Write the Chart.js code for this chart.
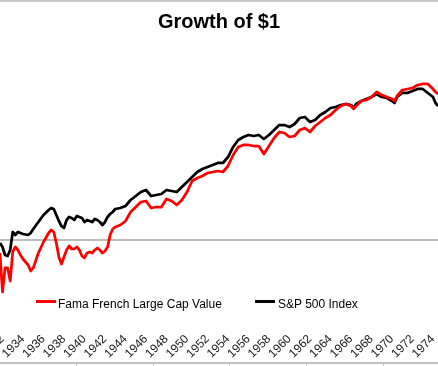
<!DOCTYPE html>
<html>
<head>
<meta charset="utf-8">
<script src="https://cdn.jsdelivr.net/npm/chart.js@4/dist/chart.umd.min.js"></script>
<style>
  body { margin: 0; background: #fff; }
  #wrap { position: relative; width: 438px; height: 366px; overflow: hidden; background: #fff; }
  #c { position: absolute; left: 0; top: 0; }
  .band { position: absolute; background: #c8c8c8; }
  .leg { position: absolute; font: 12px "Liberation Sans", Arial, sans-serif; line-height: 14px; color: #000; white-space: nowrap; }
  .sw { position: absolute; height: 3px; width: 20px; }
</style>
</head>
<body>
<div id="wrap">
  <canvas id="c" width="438" height="366"></canvas>
  <div class="band" style="left:0;top:0;width:438px;height:2px"></div>
  <div class="band" style="left:0;top:362px;width:438px;height:2px;background:#c4c4c4"></div>
  <div class="band" style="left:76px;top:363px;width:1px;height:3px"></div>
  <div class="band" style="left:153px;top:363px;width:1px;height:3px"></div>
  <div class="band" style="left:229px;top:363px;width:1px;height:3px"></div>
  <div class="band" style="left:306px;top:363px;width:1px;height:3px"></div>
  <div class="band" style="left:383px;top:363px;width:1px;height:3px"></div>
  <div class="sw" style="left:36px;top:300px;background:#ff0000"></div>
  <div class="leg" style="left:58px;top:297px">Fama French Large Cap Value</div>
  <div class="sw" style="left:255px;top:300px;background:#000"></div>
  <div class="leg" style="left:278px;top:297px">S&amp;P 500 Index</div>
</div>
<script>
// growth of $1 (log scale)
const years = [
  1931.75, 1932, 1932.25, 1932.5, 1932.75, 1933, 1933.25, 1933.5, 1933.75, 1934,
  1934.5, 1934.75, 1935, 1935.5, 1936, 1936.5, 1936.75, 1937, 1937.25, 1937.5,
  1937.75, 1938, 1938.25, 1938.5, 1938.75, 1939, 1939.25, 1939.5, 1939.75, 1940,
  1940.25, 1940.5, 1940.75, 1941, 1941.25, 1941.5, 1941.75, 1942, 1942.25, 1942.5,
  1942.75, 1943, 1943.5, 1944, 1944.5, 1945, 1945.5, 1946, 1946.5, 1947,
  1947.5, 1948, 1948.5, 1949, 1949.5, 1950, 1950.5, 1951, 1951.5, 1952,
  1952.5, 1953, 1953.5, 1954, 1954.5, 1955, 1955.5, 1956, 1956.5, 1957,
  1957.5, 1958, 1958.5, 1959, 1959.5, 1960, 1960.5, 1961, 1961.5, 1962,
  1962.5, 1963, 1963.5, 1964, 1964.5, 1965, 1965.5, 1966, 1966.25, 1966.5,
  1967, 1967.5, 1968, 1968.5, 1969, 1969.5, 1970, 1970.25, 1970.5, 1971,
  1971.5, 1972, 1972.5, 1973, 1973.5, 1974, 1974.25, 1974.5];

const famaFrench = [
  0.688, 0.224, 0.447, 0.447, 0.307, 0.708, 0.818, 0.750, 0.649, 0.579,
  0.487, 0.410, 0.447, 0.688, 0.944, 1.223, 1.334, 1.259, 0.917, 0.613,
  0.501, 0.613, 0.750, 0.841, 0.772, 0.772, 0.818, 0.750, 0.631, 0.596,
  0.688, 0.708, 0.688, 0.750, 0.794, 0.750, 0.688, 0.729, 0.818, 1.155,
  1.373, 1.454, 1.540, 1.728, 2.239, 2.585, 2.985, 3.073, 2.512, 2.585,
  2.585, 3.255, 3.073, 2.738, 3.162, 3.981, 5.464, 5.957, 6.310, 6.879,
  7.080, 7.286, 7.080, 8.414, 11.55, 14.54, 15.40, 15.40, 14.96, 14.96,
  11.89, 14.96, 18.84, 22.39, 21.75, 19.39, 19.95, 23.71, 25.12, 22.39,
  26.61, 29.85, 33.50, 36.52, 42.17, 47.32, 50.12, 47.32, 43.47, 47.32,
  54.64, 56.23, 61.31, 70.80, 64.94, 61.31, 57.88, 54.64, 63.10, 74.99,
  77.18, 79.43, 86.60, 89.13, 89.13, 77.18, 70.80, 66.83];

const sp500 = [
  0.917, 0.818, 0.649, 0.631, 0.750, 1.259, 1.155, 1.259, 1.223, 1.189,
  1.155, 1.223, 1.373, 1.679, 2.054, 2.371, 2.512, 2.441, 2.054, 1.728,
  1.496, 1.413, 1.778, 1.939, 1.884, 1.778, 1.995, 1.939, 1.884, 1.679,
  1.778, 1.728, 1.679, 1.830, 1.778, 1.679, 1.540, 1.679, 1.939, 2.114,
  2.239, 2.441, 2.512, 2.661, 3.162, 3.548, 3.981, 4.217, 3.548, 3.652,
  3.758, 4.217, 4.097, 3.981, 4.597, 5.309, 6.131, 7.080, 7.718, 8.175,
  8.660, 9.173, 9.173, 10.90, 14.54, 17.78, 19.39, 20.54, 19.95, 20.54,
  18.30, 20.54, 23.71, 27.38, 27.38, 25.85, 28.18, 33.50, 34.48, 29.85,
  31.62, 36.52, 39.81, 44.67, 45.97, 48.70, 50.12, 48.70, 44.67, 50.12,
  54.64, 57.88, 61.31, 66.83, 61.31, 59.57, 54.64, 51.58, 61.31, 68.79,
  68.79, 72.86, 77.18, 77.18, 68.79, 61.31, 51.58, 47.32];

const yearTicks = [1932, 1934, 1936, 1938, 1940, 1942, 1944, 1946, 1948, 1950, 1952,
  1954, 1956, 1958, 1960, 1962, 1964, 1966, 1968, 1970, 1972, 1974];

const FONT = "'Liberation Sans', Arial, sans-serif";

// gray line at $1
const dollarLine = {
  id: 'dollarLine',
  beforeDatasetsDraw(chart) {
    const { ctx, chartArea, scales } = chart;
    const y = scales.y.getPixelForValue(1);
    ctx.save();
    ctx.strokeStyle = '#bdbdbd';
    ctx.lineWidth = 2;
    ctx.beginPath();
    ctx.moveTo(chartArea.left, y);
    ctx.lineTo(chartArea.right, y);
    ctx.stroke();
    ctx.restore();
  }
};

new Chart(document.getElementById('c'), {
  type: 'line',
  data: {
    datasets: [
      {
        label: 'Fama French Large Cap Value',
        data: years.map((x, i) => ({ x: x, y: famaFrench[i] })),
        borderColor: '#ff0000',
        borderWidth: 2.75,
        pointRadius: 0,
        tension: 0,
        borderJoinStyle: 'round'
      },
      {
        label: 'S&P 500 Index',
        data: years.map((x, i) => ({ x: x, y: sp500[i] })),
        borderColor: '#000000',
        borderWidth: 2.75,
        pointRadius: 0,
        tension: 0,
        borderJoinStyle: 'round'
      }
    ]
  },
  options: {
    responsive: false,
    animation: false,
    layout: { padding: 0 },
    plugins: {
      legend: { display: false },
      tooltip: { enabled: false },
      title: {
        display: true,
        text: 'Growth of $1',
        color: '#000',
        font: { family: FONT, size: 20, weight: 'bold', lineHeight: 1.2 },
        padding: { top: 10, bottom: 10 }
      }
    },
    scales: {
      x: {
        type: 'linear',
        min: 1931.756,
        max: 1974.488,
        grid: { display: false, drawTicks: false },
        border: { display: false },
        afterBuildTicks: s => { s.ticks = yearTicks.map(v => ({ value: v })); },
        afterFit: s => { s.paddingLeft = 0; s.paddingRight = 0; s.height = 36; },
        ticks: {
          autoSkip: false,
          minRotation: 45,
          maxRotation: 45,
          padding: 2,
          color: '#1a1a1a',
          font: { family: FONT, size: 12 },
          callback: v => String(v)
        }
      },
      y: {
        type: 'logarithmic',
        display: false,
        min: 0.075,
        max: 281.8
      }
    }
  },
  plugins: [dollarLine]
});
</script>
</body>
</html>
